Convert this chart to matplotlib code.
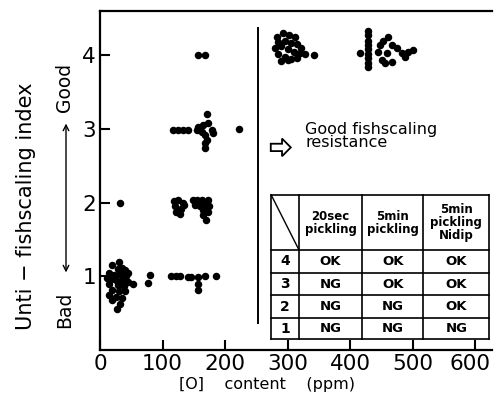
import matplotlib.pyplot as plt
import matplotlib.transforms as mtransforms
from matplotlib.patches import FancyArrow
import numpy as np

plt.rcParams['font.family'] = ['DejaVu Sans']

# --- data: [O] content (ppm) vs index ---
idx1_x = [20, 30, 28, 35, 40, 15, 22, 32, 42, 18, 25, 35, 45, 53, 15, 28, 38, 20, 30, 40,
          15, 25, 35, 20, 32, 27, 12, 44, 24, 36, 80, 77,
          114, 122, 128, 141, 146, 157, 157, 157, 168, 186]
idx1_y = [1.15, 1.2, 1.1, 1.12, 1.08, 1.05, 1.02, 1.03, 1.0, 0.97, 0.95, 0.95, 0.93, 0.9, 0.9,
          0.88, 0.87, 0.82, 0.8, 0.8, 0.75, 0.72, 0.7, 0.68, 0.62, 0.56, 0.98, 1.05, 1.0, 0.9,
          1.02, 0.91,
          1.0, 1.0, 1.0, 0.99, 0.99, 0.99, 0.9, 0.81, 1.0, 1.0]

idx2_x = [32, 118, 125, 132, 120, 130, 135, 122, 128,
          148, 155, 163, 172, 152, 160, 168, 175, 165, 172, 165, 170]
idx2_y = [2.0, 2.02, 2.03, 2.0, 1.95, 1.92, 1.97, 1.88, 1.85,
          2.03, 2.04, 2.03, 2.03, 1.97, 1.95, 1.97, 1.95, 1.9, 1.88, 1.83, 1.77]

idx3_x = [117, 125, 133, 141, 155, 157, 165, 173, 171, 179, 181, 163, 168, 171, 168, 168, 222]
idx3_y = [2.98, 2.98, 2.98, 2.98, 2.98, 3.03, 3.05, 3.08, 3.21, 2.98, 2.94, 2.96, 2.92, 2.85,
          2.81, 2.74, 3.0]

idx4_x = [156, 168,
          283, 292, 302, 312, 285, 295, 305, 315, 322, 280, 290, 300, 310, 320, 285, 295, 305,
          315, 290, 300, 328, 342,
          429, 429, 429, 429, 429, 429, 429, 429, 429, 416,
          461, 453, 448, 467, 475, 445, 459, 483, 493, 501, 488, 451, 467, 456]
idx4_y = [4.0, 4.0,
          4.25, 4.3, 4.28, 4.25, 4.18, 4.2, 4.17, 4.15, 4.1, 4.1, 4.12, 4.08, 4.05, 4.03, 4.02,
          3.98, 3.95, 3.97, 3.92, 3.93, 4.02, 4.0,
          4.33, 4.27, 4.2, 4.14, 4.08, 4.02, 3.96, 3.9, 3.84, 4.03,
          4.25, 4.2, 4.14, 4.14, 4.1, 4.05, 4.03, 4.03, 4.05, 4.07, 3.98, 3.93, 3.91, 3.89]

x_ticks = [0, 100, 200, 300, 400, 500, 600]
y_ticks = [1, 2, 3, 4]

# table contents
col_heads = ["20sec\npickling", "5min\npickling", "5min\npickling\nNidip"]
row_heads = ["4", "3", "2", "1"]
cells = [["OK", "OK", "OK"],
         ["NG", "OK", "OK"],
         ["NG", "NG", "OK"],
         ["NG", "NG", "NG"]]

# --- figure ---
fig = plt.figure(figsize=(4.94, 3.96), dpi=100)
ax = fig.add_axes([0.2024, 0.116, 0.794, 0.856])
ax.set_xlim(0, 627)
ax.set_ylim(0, 4.6)

for xs, ys in [(idx1_x, idx1_y), (idx2_x, idx2_y), (idx3_x, idx3_y), (idx4_x, idx4_y)]:
    ax.plot(xs, ys, 'o', color='black', ms=5.4, mew=0)

ax.set_xticks(x_ticks)
ax.set_yticks(y_ticks)
ax.tick_params(direction='in', length=7, width=1.5, labelsize=15.5, pad=3)
for s in ['left', 'bottom', 'top']:
    ax.spines[s].set_linewidth(1.6)
ax.spines['right'].set_visible(False)
# last x label sits right on the edge, pull it in a little
last = ax.get_xticklabels()[-1]
last.set_transform(last.get_transform() +
                   mtransforms.ScaledTranslation(-4 / 72, 0, fig.dpi_scale_trans))

# separator line
ax.plot([253, 253], [0.37, 4.37], color='black', lw=1.4)

# hollow arrow + note
ax.add_patch(FancyArrow(273, 2.75, 32, 0, width=0.1, head_width=0.24, head_length=14,
                        length_includes_head=True, facecolor='white', edgecolor='black', lw=1.3))
ax.text(328, 2.9, "Good fishscaling\nresistance", fontsize=11.5, va='center', ha='left',
        linespacing=0.85)

# table
xb = [274, 318, 419, 517, 622]
yb = [2.10, 1.36, 1.045, 0.746, 0.434, 0.15]
kw = dict(color='black', lw=1.2)
for x in xb:
    ax.plot([x, x], [yb[-1], yb[0]], **kw)
for y in yb:
    ax.plot([xb[0], xb[-1]], [y, y], **kw)
ax.plot([xb[0], xb[1]], [yb[0], yb[1]], color='black', lw=1)
for j, h in enumerate(col_heads):
    ax.text((xb[j + 1] + xb[j + 2]) / 2, (yb[0] + yb[1]) / 2, h, ha='center', va='center',
            fontsize=8.5, fontweight='bold', linespacing=1.0)
for i, r in enumerate(row_heads):
    yc = (yb[i + 1] + yb[i + 2]) / 2
    ax.text((xb[0] + xb[1]) / 2, yc, r, ha='center', va='center', fontsize=10, fontweight='bold')
    for j, c in enumerate(cells[i]):
        ax.text((xb[j + 1] + xb[j + 2]) / 2, yc, c, ha='center', va='center',
                fontsize=9.5, fontweight='bold')

# axis labels
fig.text(0.053, 0.48, "Unti \u2212 fishscaling index", rotation=90, ha='center', va='center',
         fontsize=15)
fig.text(0.13, 0.778, "Good", rotation=90, ha='center', va='center', fontsize=13.5)
fig.text(0.13, 0.217, "Bad", rotation=90, ha='center', va='center', fontsize=13.5)
ax.annotate("", xy=(0.1336, 0.695), xytext=(0.1336, 0.305), xycoords='figure fraction',
            arrowprops=dict(arrowstyle='<->', lw=1, color='black'))
fig.text(0.54, 0.03, "[O]    content    (ppm)", ha='center', va='center', fontsize=11.5)

fig.savefig("out.png", dpi=100)
